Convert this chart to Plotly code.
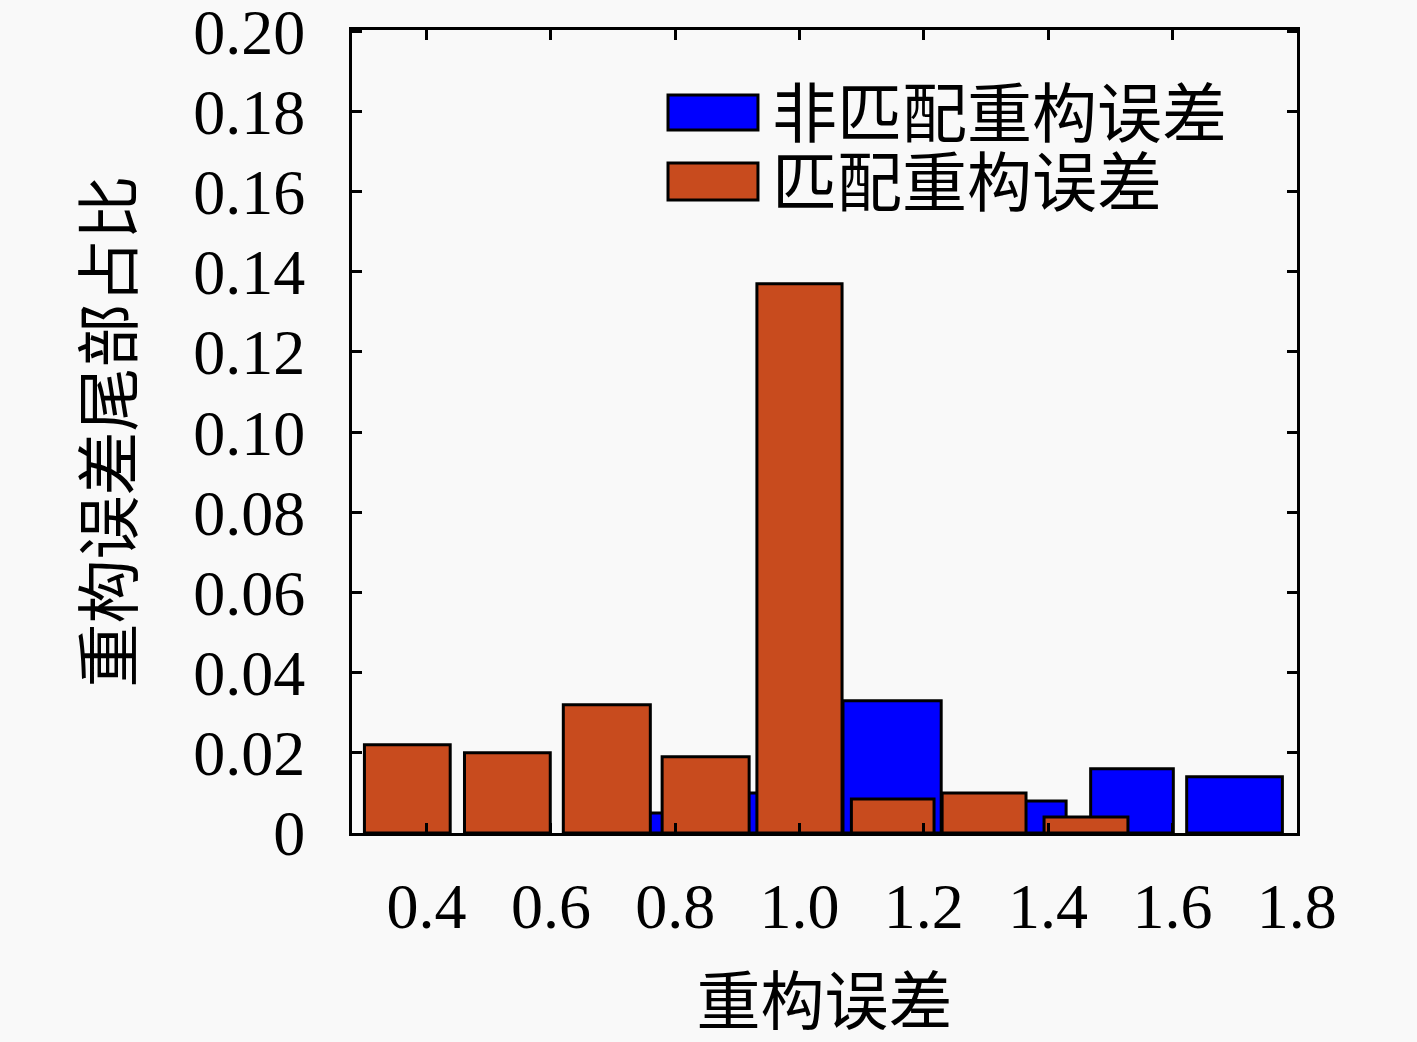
import plotly.graph_objects as go

# Data
series_names = ["非匹配重构误差", "匹配重构误差"]

blue_x = [0.80, 0.96, 1.149, 1.36, 1.535, 1.70]
blue_w = [0.14, 0.14, 0.158, 0.138, 0.133, 0.154]
blue_y = [0.005, 0.010, 0.033, 0.008, 0.016, 0.014]

orange_x = [0.369, 0.530, 0.690, 0.849, 1.000, 1.150, 1.297, 1.461]
orange_w = [0.138, 0.138, 0.140, 0.140, 0.137, 0.133, 0.135, 0.135]
orange_y = [0.022, 0.020, 0.032, 0.019, 0.137, 0.0085, 0.010, 0.004]

x_ticks = [0.4, 0.6, 0.8, 1.0, 1.2, 1.4, 1.6, 1.8]
x_ticktext = ["0.4", "0.6", "0.8", "1.0", "1.2", "1.4", "1.6", "1.8"]
y_ticks = [0, 0.02, 0.04, 0.06, 0.08, 0.10, 0.12, 0.14, 0.16, 0.18, 0.20]
y_ticktext = ["0", "0.02", "0.04", "0.06", "0.08", "0.10", "0.12", "0.14", "0.16", "0.18", "0.20"]

BLUE = "#0000ff"
ORANGE = "#c84b1e"
FONT = "Liberation Serif, Noto Sans CJK SC, serif"
CJK = "Noto Sans CJK SC"

fig = go.Figure()

# blue first, orange drawn over it
fig.add_trace(go.Bar(
    x=blue_x, y=blue_y, width=blue_w, name=series_names[0],
    marker=dict(color=BLUE, line=dict(color="black", width=3)),
    showlegend=False,
))
fig.add_trace(go.Bar(
    x=orange_x, y=orange_y, width=orange_w, name=series_names[1],
    marker=dict(color=ORANGE, line=dict(color="black", width=3)),
    showlegend=False,
))

# hand-drawn legend, big patches like the original
legend_rows = [(BLUE, 0.919, 0.8755), (ORANGE, 0.8344, 0.7883)]
for (color, y0, y1), name in zip(legend_rows, series_names):
    fig.add_shape(type="rect", xref="paper", yref="paper",
                  x0=0.3344, x1=0.4296, y0=y1, y1=y0,
                  fillcolor=color, line=dict(color="black", width=3))
    fig.add_annotation(xref="paper", yref="paper", x=0.442, y=(y0 + y1) / 2 + 0.004,
                       text=name, showarrow=False, xanchor="left", yanchor="middle",
                       font=dict(family=CJK, size=65, color="black"))

fig.update_layout(
    width=1417, height=1042,
    margin=dict(l=352, r=120, t=30, b=209),
    barmode="overlay",
    paper_bgcolor="#f9f9f9",
    plot_bgcolor="#f9f9f9",
    font=dict(family=FONT, size=64, color="black"),
)

fig.update_xaxes(
    range=[0.28, 1.8005], tickvals=x_ticks, ticktext=x_ticktext,
    showline=True, linecolor="black", linewidth=3, mirror="ticks",
    ticks="inside", ticklen=10, tickwidth=2.5, tickcolor="black",
    showgrid=False, zeroline=False, ticklabelstandoff=15,
    ticklabeloverflow="allow", automargin=False,
    title=dict(text="重构误差", font=dict(family=CJK, size=64), standoff=70),
)
fig.update_yaxes(
    range=[0, 0.2003], tickvals=y_ticks, ticktext=y_ticktext,
    showline=True, linecolor="black", linewidth=3, mirror="ticks",
    ticks="inside", ticklen=10, tickwidth=2.5, tickcolor="black",
    showgrid=False, zeroline=False, ticklabelstandoff=31,
    ticklabeloverflow="allow", automargin=False,
    title=dict(text="重构误差尾部占比", font=dict(family=CJK, size=64), standoff=40),
)

fig.write_html("out.html", config={"displayModeBar": False},
               post_script="document.body.style.margin='0';")
